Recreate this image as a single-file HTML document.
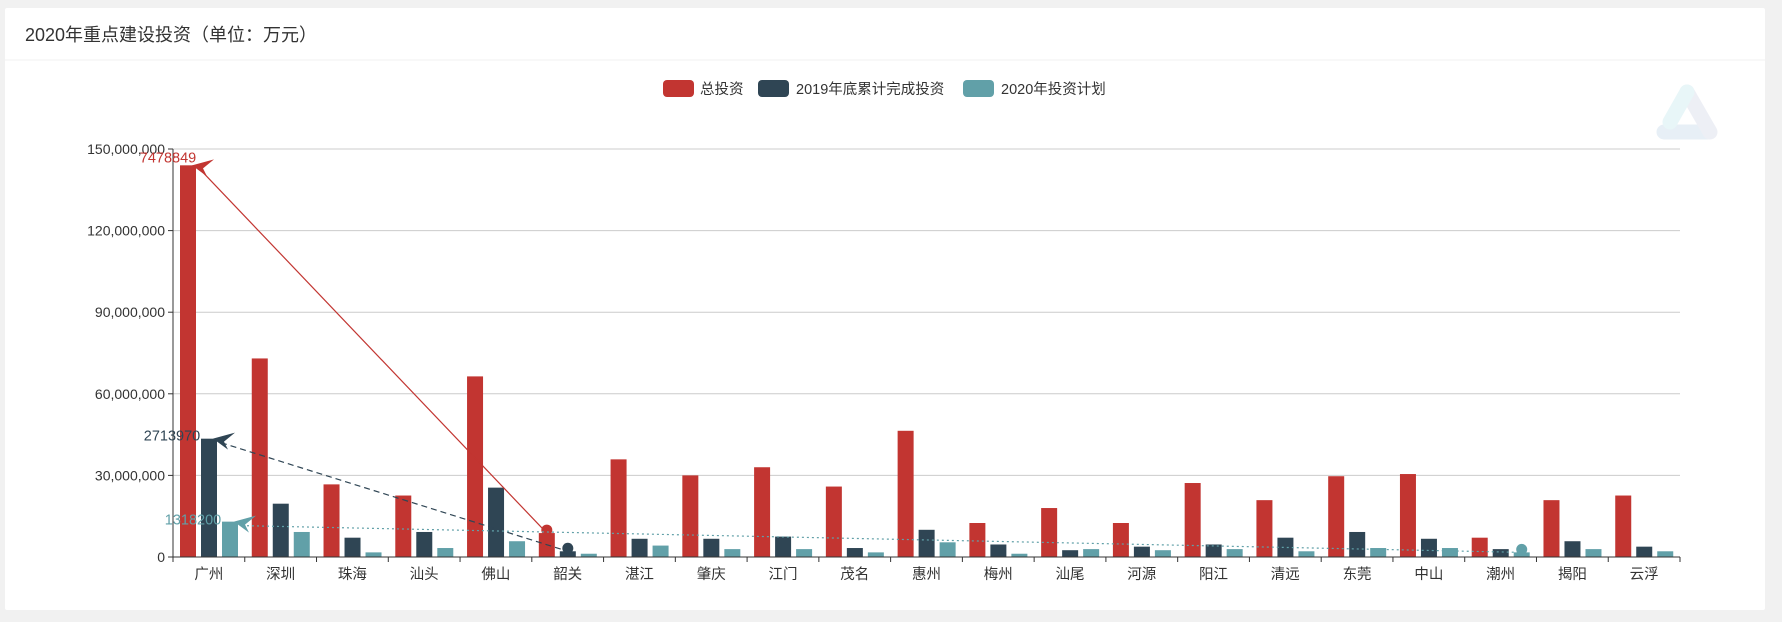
<!DOCTYPE html>
<html><head><meta charset="utf-8"><style>
html,body{margin:0;padding:0;background:#f1f1f1;width:1782px;height:622px;overflow:hidden}
svg{position:absolute;left:0;top:0}
text{font-family:"Liberation Sans","Noto Sans CJK SC",sans-serif}
</style></head><body>
<svg id="s" width="1782" height="622" xmlns="http://www.w3.org/2000/svg">
<rect x="5" y="8" width="1760" height="602" fill="#fff" rx="2"/>
<line x1="5" y1="60" x2="1765" y2="60" stroke="#f0f0f0"/>
<text x="25" y="41" font-size="18" fill="#333">2020年重点建设投资（单位：万元）</text>
<rect x="663" y="80" width="31" height="17" rx="4" fill="#c23531"/>
<text x="700" y="94" font-size="14.5" fill="#333">总投资</text>
<rect x="758" y="80" width="31" height="17" rx="4" fill="#2f4554"/>
<text x="796" y="94" font-size="14.5" fill="#333">2019年底累计完成投资</text>
<rect x="963" y="80" width="31" height="17" rx="4" fill="#61a0a8"/>
<text x="1001" y="94" font-size="14.5" fill="#333">2020年投资计划</text>
<g opacity="0.55" fill="none" stroke-linecap="round" stroke-linejoin="round" stroke-width="15">
<line x1="1664" y1="132" x2="1708" y2="132" stroke="#d5e3ef"/>
<line x1="1687" y1="92" x2="1710" y2="132" stroke="#e0e3ee"/>
<line x1="1687" y1="92" x2="1670" y2="122" stroke="#d6eff3"/>
</g>
<g id="g"></g>
</svg>
<script>
var cats="广州 深圳 珠海 汕头 佛山 韶关 湛江 肇庆 江门 茂名 惠州 梅州 汕尾 河源 阳江 清远 东莞 中山 潮州 揭阳 云浮".split(" ");
var A=[144,73,26.7,22.6,66.4,8.8,35.9,30,33,25.9,46.4,12.5,18,12.5,27.2,20.9,29.7,30.5,7.1,20.9,22.6];
var B=[43.5,19.6,7.1,9.2,25.5,2.1,6.7,6.7,7.5,3.3,10,4.6,2.5,3.8,4.6,7.1,9.2,6.7,2.9,5.8,3.8];
var C=[13,9.2,1.7,3.3,5.8,1.2,4.2,2.9,2.9,1.7,5.4,1.2,2.9,2.5,2.9,2.1,3.3,3.3,1.7,2.9,2.1];
var X0=173,X1=1680,Y0=557,Ytop=149,cw=(X1-X0)/21,k=(Y0-Ytop)/150;
var h='';
for(var i=0;i<=5;i++){var y=Y0-i*30*k;
 if(i>0)h+='<line x1="'+X0+'" y1="'+y+'" x2="'+X1+'" y2="'+y+'" stroke="#ccc"/>';
 h+='<line x1="'+(X0-5)+'" y1="'+y+'" x2="'+X0+'" y2="'+y+'" stroke="#333"/>';
 var v=(i*30000000).toLocaleString('en-US');
 h+='<text x="'+(X0-8)+'" y="'+(y+5)+'" font-size="14" fill="#333" text-anchor="end">'+v+'</text>';}
var cols=['#c23531','#2f4554','#61a0a8'],D=[A,B,C];
for(var c=0;c<21;c++){var x=X0+c*cw;
 for(var s=0;s<3;s++){var bx=x+7+s*21,bh=D[s][c]*k;
  h+='<rect x="'+bx+'" y="'+(Y0-bh)+'" width="16" height="'+bh+'" fill="'+cols[s]+'"/>';}
 h+='<line x1="'+x+'" y1="'+Y0+'" x2="'+x+'" y2="'+(Y0+5)+'" stroke="#333"/>';
 h+='<text x="'+(x+cw/2)+'" y="'+(Y0+22)+'" font-size="14.5" fill="#333" text-anchor="middle">'+cats[c]+'</text>';}
h+='<line x1="'+X1+'" y1="'+Y0+'" x2="'+X1+'" y2="'+(Y0+5)+'" stroke="#333"/>';
h+='<line x1="'+X0+'" y1="'+Y0+'" x2="'+X1+'" y2="'+Y0+'" stroke="#333"/>';
h+='<line x1="'+X0+'" y1="'+Ytop+'" x2="'+X0+'" y2="'+Y0+'" stroke="#333"/>';
function cx(c,s){return X0+c*cw+7+s*21+8}
function cy(v){return Y0-v*k}
function ml(s,cmin,dash,lbl,lx,dy){
 var x1=cx(0,s),y1=cy(D[s][0]),x2=cx(cmin,s),y2=cy(D[s][cmin]);
 h+='<line x1="'+(x1+12)+'" y1="'+(y1+4)+'" x2="'+x2+'" y2="'+y2+'" stroke="'+cols[s]+'" stroke-width="1.2" '+(dash?'stroke-dasharray="'+dash+'"':'')+'/>';
 h+='<polygon points="'+(x1+4)+','+y1+' '+(x1+26)+','+(y1-6)+' '+(x1+15)+','+(y1+3)+' '+(x1+19)+','+(y1+11)+'" fill="'+cols[s]+'"/>';
 h+='<circle cx="'+x2+'" cy="'+(y2-3)+'" r="5.5" fill="'+cols[s]+'"/>';
 h+='<text x="'+lx+'" y="'+(y1+dy)+'" font-size="14.5" fill="'+cols[s]+'" text-anchor="middle">'+lbl+'</text>';}
ml(0,5,null,'7478849',168,-3);
ml(1,5,'6,4','2713970',172,2);
ml(2,18,'2,3','1318200',193,3);
document.getElementById('g').innerHTML=h;
</script>
</body></html>
